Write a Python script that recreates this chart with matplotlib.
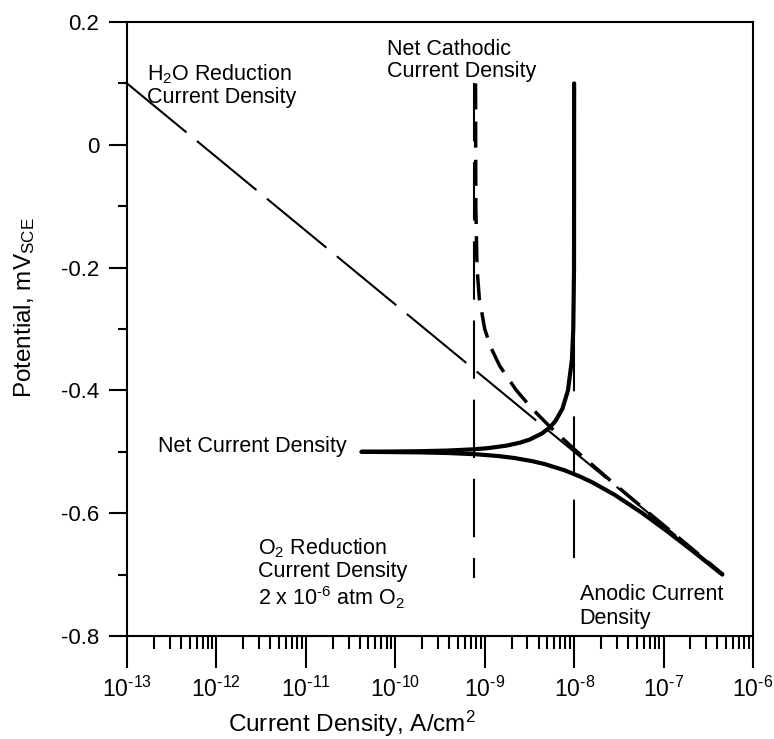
import matplotlib
matplotlib.use('Agg')
import matplotlib.pyplot as plt
import numpy as np
from matplotlib.ticker import FixedLocator, NullFormatter

plt.rcParams['font.family'] = ['Liberation Sans', 'DejaVu Sans']
plt.rcParams['mathtext.fontset'] = 'custom'
plt.rcParams['mathtext.rm'] = 'Liberation Sans'
plt.rcParams['mathtext.it'] = 'Liberation Sans:italic'
plt.rcParams['mathtext.default'] = 'regular'

# H2O reduction (thin long dashes)
h2o_i = [1e-13, 4.64e-7]
h2o_E = [0.1, -0.7]

# O2 reduction limiting current and anodic (passive) current
o2_i = [7.5e-10, 7.5e-10]
o2_E = [0.1, -0.705]
anod_i = [1e-8, 1e-8]
anod_E = [0.1, -0.705]

# net cathodic current (short dashes)
cat_i = [7.9e-10, 7.95e-10, 8.2e-10, 8.7e-10, 1.0e-9, 1.17e-9, 1.47e-9, 2.26e-9,
         3.4e-9, 5.43e-9, 1.08e-8, 2.7e-8, 6.9e-8, 1.79e-7, 4.65e-7]
cat_E = [0.1, -0.1, -0.2, -0.25, -0.3, -0.33, -0.36, -0.4,
         -0.43, -0.46, -0.5, -0.55, -0.6, -0.65, -0.7]

# net current, anodic branch (thick)
net_up_i = [4.2e-11, 9.5e-11, 1.9e-10, 3.8e-10, 7.4e-10, 1.09e-9, 1.75e-9, 2.5e-9, 3.19e-9,
            4.38e-9, 5.36e-9, 6.17e-9, 7.39e-9, 8.53e-9, 9.44e-9, 9.78e-9, 9.97e-9, 1.0e-8]
net_up_E = [-0.5, -0.4995, -0.499, -0.498, -0.496, -0.494, -0.49, -0.485, -0.48,
            -0.47, -0.46, -0.45, -0.43, -0.40, -0.35, -0.30, -0.20, 0.1]

# net current, cathodic branch (thick)
net_dn_i = [4.2e-11, 9.6e-11, 1.94e-10, 3.91e-10, 7.98e-10, 1.44e-9, 2.12e-9, 3.34e-9, 4.68e-9,
            7.78e-9, 1.15e-8, 1.61e-8, 2.83e-8, 5.81e-8, 1.11e-7, 2.05e-7, 4.54e-7]
net_dn_E = [-0.5, -0.5005, -0.501, -0.502, -0.504, -0.507, -0.51, -0.515, -0.52,
            -0.53, -0.54, -0.55, -0.57, -0.6, -0.63, -0.66, -0.7]

xticks = [1e-13, 1e-12, 1e-11, 1e-10, 1e-9, 1e-8, 1e-7, 1e-6]
xlabels = ['10$^{\u201013}$', '10$^{\u201012}$', '10$^{\u201011}$', '10$^{\u201010}$',
           '10$^{\u20109}$', '10$^{\u20108}$', '10$^{\u20107}$', '10$^{\u20106}$']
yticks = [-0.8, -0.6, -0.4, -0.2, 0, 0.2]
ylabels = ['-0.8', '-0.6', '-0.4', '-0.2', '0', '0.2']

fig = plt.figure(figsize=(7.74, 7.39), dpi=100)
ax = fig.add_axes([127/774, 1-636/739, (753-127)/774, (636-22)/739])

ax.plot(h2o_i, h2o_E, color='black', lw=1.5, dashes=(37, 6.5))
ax.plot(o2_i, o2_E, color='black', lw=1.5, dashes=(28, 10))
ax.plot(anod_i, anod_E, color='black', lw=1.5, dashes=(28, 12))
ax.plot(cat_i, cat_E, color='black', lw=2.5, dashes=(7.5, 3.5))
ax.plot(net_up_i, net_up_E, color='black', lw=3, solid_capstyle='round')
ax.plot(net_dn_i, net_dn_E, color='black', lw=3, solid_capstyle='round')

ax.set_xscale('log')
ax.set_xlim(1e-13, 1e-6)
ax.set_ylim(-0.8, 0.2)

ax.set_xticks(xticks)
ax.set_xticklabels(xlabels, fontsize=16.5)
minor = [m * 10.0**e for e in range(-13, -6) for m in range(2, 10)]
ax.xaxis.set_minor_locator(FixedLocator(minor))
ax.xaxis.set_minor_formatter(NullFormatter())
ax.set_yticks(yticks)
ax.set_yticklabels(ylabels, fontsize=16)
ax.yaxis.set_minor_locator(FixedLocator([-0.7, -0.5, -0.3, -0.1, 0.1]))

ax.tick_params(axis='x', which='major', direction='out', length=23, width=1.5, pad=6)
ax.tick_params(axis='x', which='minor', direction='out', length=9.5, width=1.5)
ax.tick_params(axis='y', which='major', direction='out', length=13, width=1.5, pad=7)
ax.tick_params(axis='y', which='minor', direction='out', length=6.5, width=1.5)
for s in ax.spines.values():
    s.set_linewidth(1.5)

ax.set_xlabel('Current Density, A/cm$^2$', fontsize=17.5)
ax.set_ylabel('Potential, mV$_{SCE}$', fontsize=17.5)
ax.xaxis.set_label_coords(0.36, -0.118)
ax.yaxis.set_label_coords(-0.143, 0.534)

fs = 15.5
ax.text(1.67e-13, 0.135, 'H$_2$O Reduction\nCurrent Density', fontsize=fs, va='top', ha='left', linespacing=1.1)
ax.text(8.1e-11, 0.173, 'Net Cathodic\nCurrent Density', fontsize=fs, va='top', ha='left', linespacing=1.1)
ax.text(2.2e-13, -0.5, 'Net Current Density', fontsize=fs, va='baseline', ha='left')
ax.text(2.9e-12, -0.637, 'O$_2$ Reduction\nCurrent Density\n2 x 10$^{\u20106}$ atm O$_2$', fontsize=fs,
        va='top', ha='left', linespacing=1.1)
ax.text(1.15e-8, -0.716, 'Anodic Current\nDensity', fontsize=fs, va='top', ha='left', linespacing=1.15)

fig.savefig('out.png', dpi=100)
